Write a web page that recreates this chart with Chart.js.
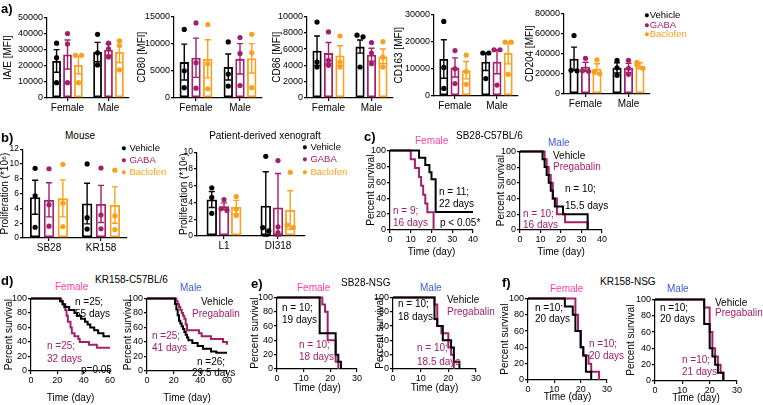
<!DOCTYPE html>
<html>
<head>
<meta charset="utf-8">
<script src="https://cdn.jsdelivr.net/npm/chart.js@4"></script>
<style>
body { margin: 0; background: #fff; }
#fig { position: relative; width: 763px; height: 405px; overflow: hidden; font-family: "Liberation Sans", Arial, sans-serif; }
#fig canvas { position: absolute; }
.t { position: absolute; white-space: nowrap; font-size: 10px; line-height: 1; transform: translateY(-50%); }
.c { transform: translate(-50%, -50%); }
.p { font-weight: bold; font-size: 13px; }
.l { font-size: 9.5px; }
</style>
</head>
<body>
<div id="fig"></div>
<script>
// ---- data ----
const sexes = ['Female', 'Male'];
const lines = ['SB28', 'KR158'];
const pdx = ['L1', 'DI318'];
const treatments = ['Vehicle', 'GABA', 'Baclofen'];

// panel a, [treatment][sex]
const iaeMean = [[23000, 28500], [27000, 30000], [20500, 28500]];
const iaeSem = [[7000, 6000], [9000, 3500], [5500, 6500]];
const iaeDots = [[[34000, 25000, 9500], [39500, 28000, 20500]],
                 [[40000, 33500, 9500], [34000, 30500, 25500]],
                 [[26500, 26500, 9500], [35500, 32500, 17500]]];

const cd80Mean = [[6600, 5700], [7400, 7200], [7200, 7300]];
const cd80Sem = [[3300, 2400], [3600, 2800], [3500, 2700]];
const cd80Dots = [[[12600, 5000, 1900], [10300, 4400, 2200]],
                  [[13800, 6500, 1800], [11100, 8200, 2300]],
                  [[13500, 6300, 1700], [11700, 8300, 1900]]];

const cd86Mean = [[5800, 6300], [5500, 5300], [5200, 5100]];
const cd86Sem = [[1800, 800], [1300, 800], [1200, 900]];
const cd86Dots = [[[9300, 4400, 3800], [7700, 7500, 3800]],
                  [[8100, 4600, 4000], [6800, 5500, 4200]],
                  [[7600, 4400, 3800], [6900, 5000, 3800]]];

const cd163Mean = [[13600, 12600], [10500, 12600], [9500, 15800]];
const cd163Sem = [[7100, 3200], [3500, 4400], [3200, 4000]];
const cd163Dots = [[[27400, 10500, 2800], [15800, 15800, 6400]],
                   [[16700, 10000, 4600], [17000, 17000, 4000]],
                   [[15000, 9000, 4300], [19800, 19800, 8000]]];

const cd204Mean = [[35000, 26000], [27000, 26000], [25000, 28000]];
const cd204Sem = [[11500, 5000], [4500, 4500], [5000, 3000]];
const cd204Dots = [[[58000, 23500, 23000], [33500, 26000, 18500]],
                   [[35500, 23000, 22500], [33500, 25500, 19500]],
                   [[34000, 22000, 20000], [31500, 29000, 25500]]];

// panel b, proliferation (*10^6)
const mouseMean = [[5.5, 4.65], [5.15, 4.6], [5.35, 4.45]];
const mouseSem = [[2.3, 2.75], [2.3, 2.5], [2.5, 2.45]];
const mouseDots = [[[9.4, 5.7, 1.45], [10.0, 2.75, 1.2]],
                   [[9.35, 4.5, 1.6], [9.45, 3.1, 1.25]],
                   [[9.95, 4.7, 1.55], [9.15, 3.0, 1.15]]];

const pdxMean = [[4.35, 3.6], [3.55, 3.4], [3.45, 3.1]];
const pdxSem = [[0.95, 4.05], [0.4, 4.05], [0.8, 2.3]];
const pdxDots = [[[5.75, 4.6, 2.7], [9.5, 1.0, 0.6]],
                 [[4.35, 3.25, 3.05], [9.0, 1.1, 0.4]],
                 [[4.7, 3.2, 2.45], [7.6, 1.3, 1.0]]];

// survival curves [day, percent]
const cFemVeh = [[0, 100], [14, 90.9], [17, 81.8], [19, 72.7], [20, 63.6], [22, 22.7], [40, 22.7]];
const cFemPreg = [[0, 100], [10, 88.9], [12, 77.8], [14, 66.7], [15, 55.6], [16, 44.4], [17, 33.3], [18, 22.2], [21, 0]];
const cMalVeh = [[0, 100], [11, 90], [12, 80], [13, 70], [14, 60], [15, 50], [16, 40], [17, 30], [21, 20], [33, 0]];
const cMalPreg = [[0, 100], [12, 90], [13, 80], [14, 70], [15, 60], [16, 40], [18, 20], [22, 10], [33, 0]];

const dFemVeh = [[0, 100], [22, 96], [24, 92], [26, 88], [29, 84], [33, 80], [35, 76], [38, 72], [41, 68], [43, 64], [45, 60], [48, 56], [51, 52], [55, 48], [60, 48]];
const dFemPreg = [[0, 100], [23, 96], [24, 92], [25, 88], [26, 84], [27, 76], [28, 68], [30, 60], [31, 52], [33, 48], [36, 44], [37, 40], [44, 36], [50, 32], [60, 32]];
const dMalVeh = [[0, 100], [21, 92.3], [22, 84.6], [23, 76.9], [24, 69.2], [25, 65.4], [26, 61.5], [27, 57.7], [28, 53.8], [29, 50], [30, 46.2], [31, 42.3], [34, 38.5], [38, 34.6], [42, 30.8], [48, 26.9], [52, 25], [60, 25]];
const dMalPreg = [[0, 100], [22, 96], [23, 92], [24, 88], [25, 84], [26, 80], [27, 76], [28, 72], [29, 64], [30, 56], [39, 52], [41, 48], [48, 44], [57, 40], [60, 36]];

const eFemVeh = [[0, 100], [16, 50], [22, 20], [23, 10], [24, 0]];
const eFemPreg = [[0, 100], [17, 90], [18, 80], [19, 40], [22, 10], [23, 0]];
const eMalVeh = [[0, 100], [15, 70], [16, 60], [18, 40], [21, 30], [22, 10], [24, 0]];
const eMalPreg = [[0, 100], [15, 90], [16, 60], [17.5, 50], [20, 30], [21, 20], [22, 0]];

const fFemVeh = [[0, 100], [14, 90], [17, 80], [18, 60], [20, 40], [21, 30], [22, 10], [24, 0]];
const fFemPreg = [[0, 100], [18, 80], [19, 60], [20, 40], [21, 30], [23, 20], [24, 10], [27, 0]];
const fMalVeh = [[0, 100], [18, 70], [20, 40], [21, 30], [22, 20], [23, 10], [25, 0]];
const fMalPreg = [[0, 100], [18, 90], [20, 60], [21, 40], [22, 30], [23, 20], [24, 10], [25, 0]];

// ---- styles ----
const FF = '"Liberation Sans", Arial, sans-serif';
const K = '#000', M = '#A3206A', O = '#F9A11B', PK = '#FF3FA4', BL = '#3B5BDB';
const cols = [K, M, O];
const fig = document.getElementById('fig');

// canvas so that the chart area lands on the given box
function place(area, titleCx, xH) {
    const left = Math.round(titleCx - 6);
    const top = area.t - 6;
    const cv = document.createElement('canvas');
    cv.width = area.r + 8 - left;
    cv.height = area.b + xH - top;
    cv.style.left = left + 'px';
    cv.style.top = top + 'px';
    fig.appendChild(cv);
    return { cv, yW: area.l - left, xH };
}

function axisStyle(tickSize) {
    return {
        grid: { display: true, drawOnChartArea: false, offset: false, color: K, tickLength: 3, lineWidth: 1.2 },
        border: { color: K, width: 1.2 },
        ticks: { color: K, font: { size: tickSize, family: FF }, padding: 1, maxRotation: 0, autoSkip: false }
    };
}

// error bars and single points on top of the bars
const errDots = {
    id: 'errDots',
    afterDatasetsDraw(chart) {
        const ys = chart.scales.y, ctx = chart.ctx;
        chart.data.datasets.forEach((ds, i) => {
            chart.getDatasetMeta(i).data.forEach((bar, j) => {
                const x = bar.x, m = ds.data[j], e = ds.sem[j];
                const yHi = ys.getPixelForValue(m + e), yLo = ys.getPixelForValue(Math.max(0, m - e));
                ctx.save();
                ctx.strokeStyle = ds.borderColor;
                ctx.lineWidth = 1.4;
                ctx.beginPath();
                ctx.moveTo(x, yLo); ctx.lineTo(x, yHi);
                ctx.moveTo(x - 3, yHi); ctx.lineTo(x + 3, yHi);
                ctx.moveTo(x - 3, yLo); ctx.lineTo(x + 3, yLo);
                ctx.stroke();
                const py = ds.dots[j].map(v => ys.getPixelForValue(v)).sort((a, b) => a - b);
                const px = py.map(() => x);
                for (let k = 1; k < py.length; k++) {
                    if (py[k] - py[k - 1] < 4) { px[k - 1] = x - 3; px[k] = x + 3; }
                }
                ctx.fillStyle = ds.borderColor;
                py.forEach((y, k) => { ctx.beginPath(); ctx.arc(px[k], y, 2.6, 0, Math.PI * 2); ctx.fill(); });
                ctx.restore();
            });
        });
    }
};

function barChart(p, cats, means, sems, dots, yMax, yStep, yTitle, cp, bp, tickSize) {
    const x = axisStyle(10);
    const y = axisStyle(tickSize);
    x.afterFit = s => { s.height = p.xH; };
    y.min = 0; y.max = yMax;
    y.ticks.stepSize = yStep;
    y.ticks.callback = v => v;
    y.title = { display: true, text: yTitle, color: K, font: { size: 10, family: FF }, padding: 0 };
    y.afterFit = s => { s.width = p.yW; };
    return new Chart(p.cv, {
        type: 'bar',
        data: {
            labels: cats,
            datasets: treatments.map((t, i) => ({
                label: t, data: means[i], sem: sems[i], dots: dots[i],
                backgroundColor: 'rgba(255,255,255,0)', borderColor: cols[i], borderWidth: 1.8,
                borderSkipped: false, categoryPercentage: cp, barPercentage: bp
            }))
        },
        options: {
            animation: false, responsive: false, devicePixelRatio: 1,
            layout: { padding: { top: 6, right: 8, left: 0, bottom: 0 } },
            plugins: { legend: { display: false }, tooltip: { enabled: false } },
            scales: { x, y }
        },
        plugins: [errDots]
    });
}

function kmChart(p, veh, preg, xMax, xStep) {
    const x = axisStyle(9);
    const y = axisStyle(9);
    x.type = 'linear'; x.min = 0; x.max = xMax; x.ticks.stepSize = xStep;
    x.title = { display: true, text: 'Time (day)', color: K, font: { size: 10, family: FF }, padding: 0 };
    x.afterFit = s => { s.height = p.xH; };
    y.min = 0; y.max = 100; y.ticks.stepSize = 20;
    y.title = { display: true, text: 'Percent survival', color: K, font: { size: 10, family: FF }, padding: 0 };
    y.afterFit = s => { s.width = p.yW; };
    const set = (pts, c) => ({
        data: pts.map(([d, v]) => ({ x: d, y: v })), borderColor: c, borderWidth: 2,
        stepped: 'before', pointRadius: 0, fill: false, clip: 6
    });
    return new Chart(p.cv, {
        type: 'line',
        data: { datasets: [set(veh, K), set(preg, M)] },
        options: {
            animation: false, responsive: false, devicePixelRatio: 1,
            layout: { padding: { top: 6, right: 8, left: 0, bottom: 0 } },
            plugins: { legend: { display: false }, tooltip: { enabled: false } },
            scales: { x, y }
        }
    });
}

// ---- panel a ----
barChart(place({ l: 47, r: 129, t: 17, b: 98 }, 8, 16), sexes, iaeMean, iaeSem, iaeDots, 50000, 10000, 'IA/E [MFI]', 0.8, 0.8, 9);
barChart(place({ l: 174, r: 262, t: 16, b: 98 }, 142, 16), sexes, cd80Mean, cd80Sem, cd80Dots, 15000, 5000, 'CD80 [MFI]', 0.8, 0.8, 9);
barChart(place({ l: 307, r: 393, t: 16, b: 98 }, 277, 16), sexes, cd86Mean, cd86Sem, cd86Dots, 10000, 2000, 'CD86 [MFI]', 0.8, 0.8, 9);
barChart(place({ l: 434, r: 518, t: 14, b: 96 }, 399, 16), sexes, cd163Mean, cd163Sem, cd163Dots, 30000, 10000, 'CD163 [MFI]', 0.8, 0.8, 9);
barChart(place({ l: 564, r: 650, t: 13, b: 94 }, 530, 16), sexes, cd204Mean, cd204Sem, cd204Dots, 80000, 20000, 'CD204 [MFI]', 0.8, 0.8, 9);

// ---- panel b ----
barChart(place({ l: 23, r: 127, t: 149, b: 238 }, 5, 15), lines, mouseMean, mouseSem, mouseDots, 12, 2, 'Proliferation (*10⁶)', 0.8, 0.75, 8.5);
barChart(place({ l: 197, r: 305, t: 152, b: 236 }, 184, 17), pdx, pdxMean, pdxSem, pdxDots, 10, 2, 'Proliferation (*10⁶)', 0.68, 0.85, 8.5);

// ---- panels c-f ----
kmChart(place({ l: 390, r: 473, t: 150, b: 230 }, 371, 28), cFemVeh, cFemPreg, 40, 10);
kmChart(place({ l: 520, r: 602, t: 151, b: 230 }, 501, 28), cMalVeh, cMalPreg, 40, 10);
kmChart(place({ l: 31, r: 110, t: 298, b: 371 }, 9, 33), dFemVeh, dFemPreg, 60, 20);
kmChart(place({ l: 147, r: 227, t: 298, b: 371 }, 128, 33), dMalVeh, dMalPreg, 60, 20);
kmChart(place({ l: 277, r: 357, t: 297, b: 369 }, 255, 25), eFemVeh, eFemPreg, 30, 10);
kmChart(place({ l: 393, r: 476, t: 297, b: 369 }, 380, 25), eMalVeh, eMalPreg, 30, 10);
kmChart(place({ l: 528, r: 607, t: 298, b: 380 }, 505, 23), fFemVeh, fFemPreg, 30, 10);
kmChart(place({ l: 655, r: 737, t: 299, b: 381 }, 631, 23), fMalVeh, fMalPreg, 30, 10);

// ---- text: [x, y, text, colour, class] ----
const notes = [
    [1, 8, 'a)', K, 'p'],
    [644, 15, '●Vehicle', K, 'l'], [644, 25, '●GABA', M, 'l'], [644, 34, '●Baclofen', O, 'l'],
    [1, 137, 'b)', K, 'p'],
    [80, 136, 'Mouse', K, 'c'], [265, 136, 'Patient-derived xenograft', K, 'c'],
    [121, 148, '● Vehicle', K, 'l'], [121, 160, '● GABA', M, 'l'], [121, 172, '● Baclofen', O, 'l'],
    [302, 147, '● Vehicle', K, 'l'], [302, 159, '● GABA', M, 'l'], [302, 172, '● Baclofen', O, 'l'],
    [364, 136, 'c)', K, 'p'],
    [415, 141, 'Female', PK], [456, 136, 'SB28-C57BL/6', K],
    [439, 192, 'n = 11;', K], [439, 204, '22 days', K],
    [393, 211, 'n = 9;', M], [393, 223, '16 days', M], [440, 223, 'p < 0.05*', K],
    [548, 143, 'Male', BL], [553, 156, 'Vehicle', K], [553, 167, 'Pregabalin', M],
    [565, 189, 'n = 10;', K], [565, 206, '15.5 days', K],
    [523, 214, 'n = 10;', M], [523, 225, '16 days', M],
    [1, 280, 'd)', K, 'p'],
    [55, 287, 'Female', PK], [95, 280, 'KR158-C57BL/6', K],
    [75, 302, 'n =25;', K], [75, 314, '55 days', K],
    [47, 346, 'n =25;', M], [47, 359, '32 days', M], [81, 370, 'p=0.05', K],
    [180, 288, 'Male', BL], [201, 302, 'Vehicle', K], [192, 314, 'Pregabalin', M],
    [152, 336, 'n =25;', M], [152, 348, '41 days', M],
    [197, 362, 'n =26;', K], [192, 373, '29.5 days', K],
    [251, 283, 'e)', K, 'p'],
    [297, 288, 'Female', PK], [341, 283, 'SB28-NSG', K],
    [282, 308, 'n = 10;', K], [282, 320, '19 days', K],
    [299, 345, 'n = 10;', M], [299, 357, '18 days', M],
    [420, 288, 'Male', BL], [398, 304, 'n = 10;', K], [398, 317, '18 days', K],
    [447, 300, 'Vehicle', K], [447, 312, 'Pregabalin', M],
    [417, 348, 'n = 10;', M], [417, 362, '18.5 days', M],
    [502, 282, 'f)', K, 'p'],
    [600, 282, 'KR158-NSG', K], [550, 289, 'Female', PK],
    [535, 308, 'n =10;', K], [535, 319, '20 days', K],
    [589, 344, 'n =10;', M], [589, 356, '20 days', M],
    [667, 289, 'Male', BL], [660, 308, 'n =10;', K], [660, 319, '20 days', K],
    [715, 303, 'Vehicle', K], [715, 313, 'Pregabalin', M],
    [682, 360, 'n =10;', M], [682, 372, '21 days', M]
];
notes.forEach(([x, y, txt, c, cls]) => {
    const d = document.createElement('div');
    d.className = 't' + (cls ? ' ' + cls : '');
    d.style.left = x + 'px';
    d.style.top = y + 'px';
    d.style.color = c;
    d.textContent = txt;
    fig.appendChild(d);
});
</script>
</body>
</html>
